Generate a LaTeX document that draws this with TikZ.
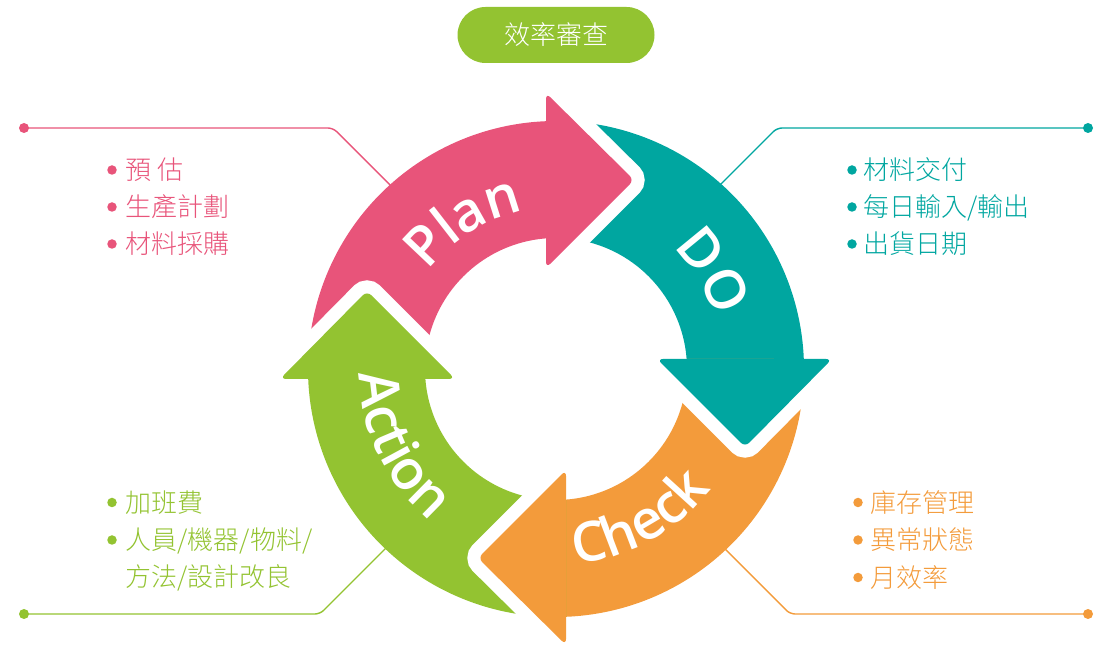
\documentclass[tikz,border=0pt]{standalone}
\usepackage{fontspec}
\IfFontExistsTF{Noto Sans CJK TC Light}
  {\newfontfamily\cjkfont{Noto Sans CJK TC Light}}
  {\newfontfamily\cjkfont{Noto Sans CJK TC}}
\IfFontExistsTF{Open Sans SemiBold}
  {\newfontfamily\labelfont{Open Sans SemiBold}}
  {\IfFontExistsTF{Open Sans Semibold}
    {\newfontfamily\labelfont{Open Sans Semibold}}
    {\newfontfamily\labelfont{Open Sans}[UprightFont=*-Bold]}}
\usetikzlibrary{decorations.text}
\definecolor{PlanPink}{HTML}{E8547A}
\definecolor{DoTeal}{HTML}{00A6A0}
\definecolor{CheckOrange}{HTML}{F39B3B}
\definecolor{ActGreen}{HTML}{93C331}

\begin{document}
\begin{tikzpicture}[x=1pt, y=1pt,
    leader/.style={line width=1.4, rounded corners=5},
    enddot/.style={circle, fill, inner sep=0pt, minimum size=10},
    bullet/.style={circle, fill, inner sep=0pt, minimum size=9.5},
    entry/.style={anchor=base west, inner sep=0pt, font=\cjkfont\fontsize{26}{30}\selectfont},
    ringlabel/.style={decorate, decoration={text along path, text align=center, text color=white,
        text={|\labelfont\fontsize{55}{55}\selectfont|#1}}}]
  \useasboundingbox (0,0) rectangle (1100,645);

  % leader lines, behind the ring
  \node[enddot, PlanPink] (pdot) at (24,517) {};
  \coordinate (pbend) at (333,517);
  \coordinate (pend) at (400,450);
  \draw[leader, PlanPink] (pdot.center) -- (pbend) -- (pend);
  \node[enddot, DoTeal] (ddot) at (1088,517) {};
  \coordinate (dbend) at (777,517);
  \coordinate (dend) at (712,452);
  \draw[leader, DoTeal] (ddot.center) -- (dbend) -- (dend);
  \node[enddot, ActGreen] (adot) at (24,31) {};
  \coordinate (abend) at (320,31);
  \coordinate (aend) at (390,101);
  \draw[leader, ActGreen] (adot.center) -- (abend) -- (aend);
  \node[enddot, CheckOrange] (cdot) at (1088,31) {};
  \coordinate (cbend) at (790,31);
  \coordinate (cend) at (722,99);
  \draw[leader, CheckOrange] (cdot.center) -- (cbend) -- (cend);

  % title
  \node[fill=ActGreen, text=white, rounded corners=28, minimum width=197, minimum height=56,
    font=\cjkfont\fontsize{26}{30}\selectfont] (title) at (556,610) {效率審查};

  % ring: bodies first, then heads with a white rim
  \begin{scope}[shift={(556,276)}]
    \foreach \col/\rot in {PlanPink/0, DoTeal/-90, CheckOrange/-180, ActGreen/-270}{
      \begin{scope}[rotate=\rot]
        \fill[\col] (182.31:248) arc[start angle=182.31, end angle=90, radius=248]
          -- (90:131) arc[start angle=90, end angle=184.38, radius=131] -- cycle;
      \end{scope}
    }
    \foreach \col/\rot in {PlanPink/0, DoTeal/-90, CheckOrange/-180, ActGreen/-270}{
      \begin{scope}[rotate=\rot]
        \draw[white, line width=26, rounded corners=6] (-10,276) -- (78,189) -- (-10,101);
        \fill[\col, rounded corners=6] (-10,276) -- (78,189) -- (-10,101) -- cycle;
      \end{scope}
    }
    \path[ringlabel=Plan] (162:161) arc[start angle=162, end angle=82, radius=161];
    \path[ringlabel=DO] (72:168) arc[start angle=72, end angle=-8, radius=168];
    \path[ringlabel=Check] (-101:196) arc[start angle=-101, end angle=-21, radius=196];
    \path[ringlabel=Action] (166:197) arc[start angle=166, end angle=246, radius=197];
  \end{scope}

  % lists
  \foreach \t [count=\i] in {預 估, 生產計劃, 材料採購}{
    \node[bullet, PlanPink] (pb\i) at (112,512-37*\i) {};
    \node[entry, text=PlanPink] (pt\i) at (125.5,502-37*\i) {\t};
  }
  \foreach \t [count=\i] in {材料交付, 每日輸入/輸出, 出貨日期}{
    \node[bullet, DoTeal] (db\i) at (852,512-37*\i) {};
    \node[entry, text=DoTeal] (dt\i) at (863.5,502-37*\i) {\t};
  }
  \foreach \t [count=\i] in {庫存管理, 異常狀態, 月效率}{
    \node[bullet, CheckOrange] (cb\i) at (858,180-37.5*\i) {};
    \node[entry, text=CheckOrange] (ct\i) at (870.5,170-37.5*\i) {\t};
  }
  \foreach \t [count=\i] in {加班費, 人員/機器/物料/}{
    \node[bullet, ActGreen] (ab\i) at (112,180-37.5*\i) {};
    \node[entry, text=ActGreen] (at\i) at (125.5,170-37.5*\i) {\t};
  }
  \node[entry, text=ActGreen] (at3) at (125.5,58) {方法/設計改良};
\end{tikzpicture}
\end{document}
